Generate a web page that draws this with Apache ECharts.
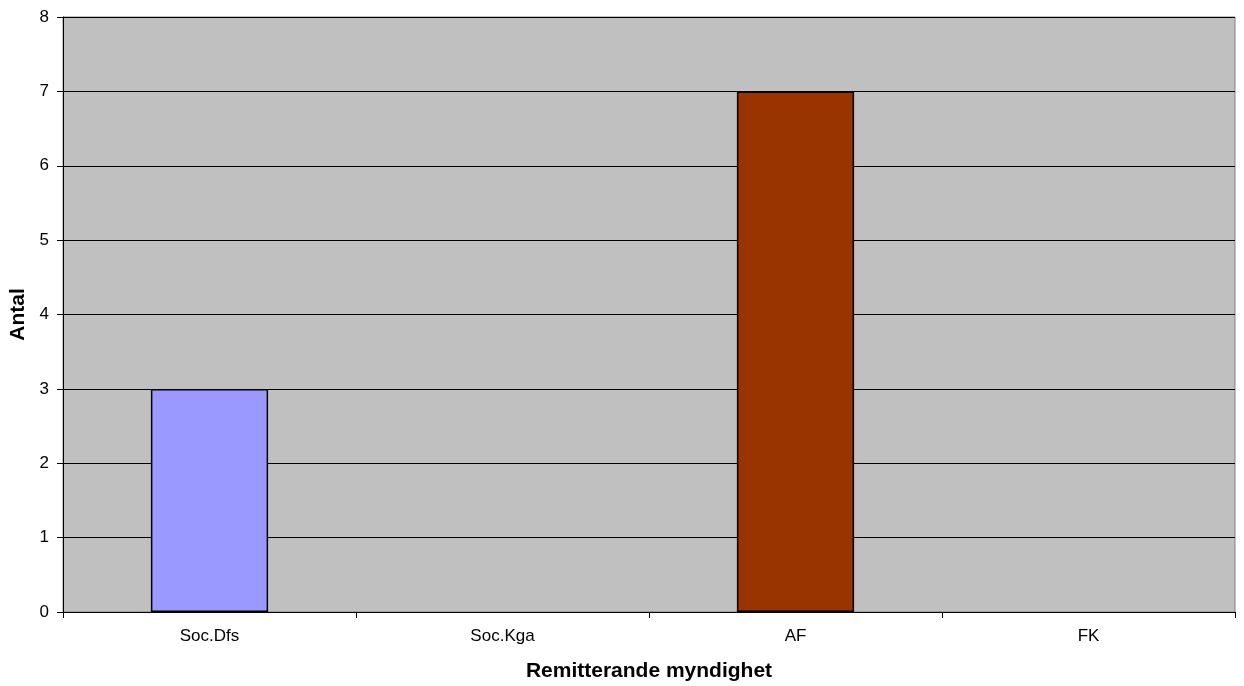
<!DOCTYPE html>
<html>
<head>
<meta charset="utf-8">
<script src="https://cdn.jsdelivr.net/npm/echarts@6/dist/echarts.min.js"></script>
<style>
html,body{margin:0;padding:0;background:#fff;}
#chart{width:1244px;height:686px;}
</style>
</head>
<body>
<div id="chart"></div>
<script>
const categories = ["Soc.Dfs", "Soc.Kga", "AF", "FK"];
const values = [3, 0, 7, 0];
const barColors = ["#9999FF", "#993366", "#993300", "#FFFFCC"];
const yTicks = [0, 1, 2, 3, 4, 5, 6, 7, 8];
const xTitle = "Remitterande myndighet";
const yTitle = "Antal";

const chart = echarts.init(document.getElementById('chart'), null, {renderer: 'canvas'});
const font = "'Liberation Sans', Arial, sans-serif";
chart.setOption({
  animation: false,
  backgroundColor: '#ffffff',
  grid: {left: 63, right: 9, top: 17, bottom: 74, outerBoundsMode: 'none', containLabel: false, show: true, backgroundColor: '#C0C0C0', borderColor: '#808080', borderWidth: 1},
  xAxis: {
    type: 'category',
    data: categories,
    name: xTitle,
    nameLocation: 'middle',
    nameGap: 49,
    nameTextStyle: {fontFamily: font, fontSize: 21, fontWeight: 'bold', color: '#000'},
    axisLine: {lineStyle: {color: '#000', width: 1}},
    axisTick: {show: true, alignWithLabel: false, length: 6, lineStyle: {color: '#000'}},
    axisLabel: {fontFamily: font, fontSize: 17, color: '#000', margin: 16},
    splitLine: {show: false}
  },
  yAxis: {
    type: 'value',
    min: yTicks[0],
    max: yTicks[yTicks.length - 1],
    interval: 1,
    name: yTitle,
    nameLocation: 'middle',
    nameGap: 34,
    nameTextStyle: {fontFamily: font, fontSize: 21, fontWeight: 'bold', color: '#000'},
    axisLine: {show: true, lineStyle: {color: '#000', width: 1}},
    axisTick: {show: true, length: 6, lineStyle: {color: '#000'}},
    axisLabel: {fontFamily: font, fontSize: 17, color: '#000', margin: 14},
    splitLine: {show: true, lineStyle: {color: '#000', width: 1}}
  },
  series: [{
    type: 'bar',
    barWidth: '40%',
    data: values.map((v, i) => ({value: v, itemStyle: {color: barColors[i], borderColor: '#000', borderWidth: v === 0 ? 0 : 1.5}}))
  }]
});
</script>
</body>
</html>
